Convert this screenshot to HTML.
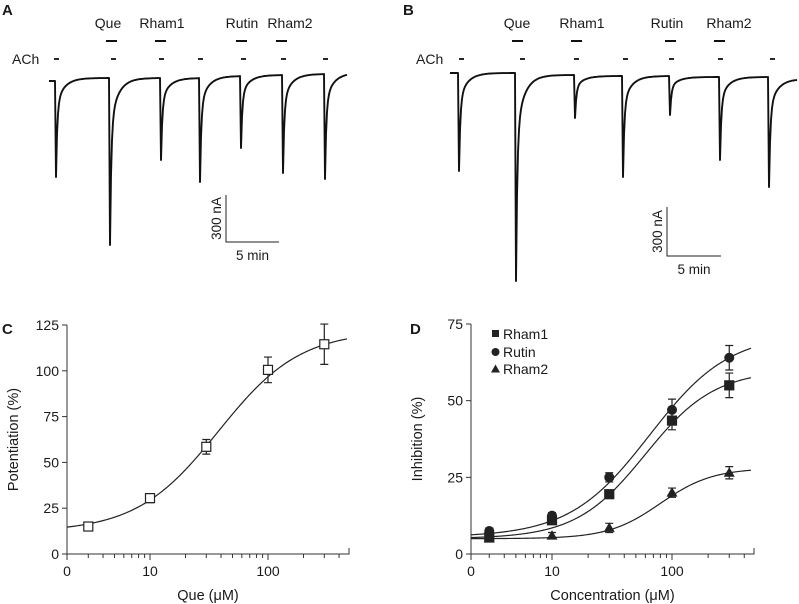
<!DOCTYPE html>
<html><head><meta charset="utf-8">
<style>
body{margin:0;background:#fff;}
svg{display:block;font-family:"Liberation Sans",Arial,sans-serif;}
text{fill:#1a1a1a;}
</style></head>
<body>
<svg id="fig" width="799" height="604" viewBox="0 0 799 604">
<g id="pa"></g>
<g id="pb"></g>
<g id="pc"></g>
<g id="pd"></g>
</svg>
<script>
// ---- Traces data ----
const drugNames = ["Que","Rham1","Rutin","Rham2"];
const aPeakX = [56,110,161,200,241,283,325];
const aPeakY = [177,245,160,182,148,173,179];
const aBase = [81,78,78,78,76,75,74,73];
const bPeakX = [459,516,575,623,670,720,769];
const bPeakY = [171,281,118,177,115,160,187];
const bBase = [73,73,75,76,76,77,77,79];
// ---- Panel C data ----
const concC = [3,10,30,100,300];
const valC = [15,30.5,58.5,100.5,114.5];
const errC = [1.5,2.5,4,7,11];
const fitC = [12,122,38,1.25];
// ---- Panel D data ----
const concD = [3,10,30,100,300];
const rham1 = [5.5,11,19.5,43.5,55];
const rham1Err = [1,1,1,3,4];
const rutin = [7.5,12.5,25,47,64];
const rutinErr = [1,1,1.5,3.5,4];
const rham2 = [5,6,8.5,20,26.5];
const rham2Err = [1,1,1.5,1.5,2];
const fitRham1 = [5,60,60,1.5];
const fitRutin = [5.5,72,65,1.3];
const fitRham2 = [5,28,80,2];
const yTicksC = [0,25,50,75,100,125];
const yTicksD = [0,25,50,75];
const xTickLabels = ["0","10","100"];

const NS="http://www.w3.org/2000/svg";
function mk(parent,tag,attrs,txt){const e=document.createElementNS(NS,tag);for(const k in attrs)e.setAttribute(k,attrs[k]);if(txt!==undefined)e.textContent=txt;parent.appendChild(e);return e;}

function trace(g,px,py,base,x0,x1,name){
  let d=`M${x0},${base[0]}`;
  for(let i=0;i<px.length;i++){
    const b0=base[i], b1=base[i+1];
    d+=` L${px[i]-1},${b0} L${px[i]},${py[i]}`;
    const end = i<px.length-1 ? px[i+1]-1 : x1;
    for(let x=px[i]+1;x<=end;x++){
      const t=x-px[i];
      const amp=py[i]-b0;
      const y=b1+amp*(0.72*Math.exp(-t/1.3)+0.28*Math.exp(-t/8));
      d+=` L${x},${y.toFixed(1)}`;
    }
  }
  const p=mk(g,'path',{d:d,fill:'none',stroke:'#111','stroke-width':1.9,'stroke-linejoin':'round'});
  
  
}
function topLabels(g,letter,lx,labX,barX,achX,achDash){
  const L=mk(g,'text',{x:lx,y:15,'font-size':15,'font-weight':'bold'},letter);
  
  drugNames.forEach((n,i)=>{
    const t=mk(g,'text',{x:labX[i],y:28,'font-size':14,'text-anchor':'middle'},n);
    
    const b=mk(g,'line',{x1:barX[i],x2:barX[i]+11,y1:41,y2:41,stroke:'#111','stroke-width':2});
    
  });
  const a=mk(g,'text',{x:achX,y:64,'font-size':14},'ACh');
  
  achDash.forEach(x=>{
    const l=mk(g,'line',{x1:x-2,x2:x+3,y1:59,y2:59,stroke:'#111','stroke-width':1.8});
    
  });
}
function scaleBar(g,x,y0,y1,x1,ty){
  const p=mk(g,'path',{d:`M${x},${y0} L${x},${y1} L${x1},${y1}`,fill:'none',stroke:'#222','stroke-width':1});
  
  const t=mk(g,'text',{x:0,y:0,'font-size':13.5,'text-anchor':'middle',transform:`translate(${x-5},${(y0+y1)/2}) rotate(-90)`},'300 nA');
  
  const t2=mk(g,'text',{x:(x+x1)/2,y:ty,'font-size':13.5,'text-anchor':'middle'},'5 min');
  
}
const pa=document.getElementById('pa'), pb=document.getElementById('pb');
topLabels(pa,'A',2,[108,162,242,290],[106,155,236,276],12,[56,113,161,200,243,283,325]);
trace(pa,aPeakX,aPeakY,aBase,49,347,'trace-a');
scaleBar(pa,226,195,242,279,260);
topLabels(pb,'B',403,[517,582,667,729],[512,571,665,714],416,[461,522,576,625,671,720,772]);
trace(pb,bPeakX,bPeakY,bBase,450,797,'trace-b');
scaleBar(pb,667,207,256,721,274);

function hill(p,c){return p[0]+(p[1]-p[0])/(1+Math.pow(p[2]/c,p[3]));}

function axes(g,ox,x10,dec,xEnd,yTop,yBot,ymax,yTicks,ylabel,xlabel){
  const sx=c=>x10+dec*Math.log10(c/10);
  const sy=v=>yBot-(yBot-yTop)*v/ymax;
  const ax=mk(g,'path',{d:`M${ox},${yTop} L${ox},${yBot} L${xEnd},${yBot} L${xEnd},${yBot-6}`,fill:'none',stroke:'#333','stroke-width':1});
  
  yTicks.forEach(v=>{
    const y=sy(v);
    const t=mk(g,'line',{x1:ox-5,x2:ox,y1:y,y2:y,stroke:'#333'});
    
    const l=mk(g,'text',{x:ox-8,y:y+5,'font-size':14,'text-anchor':'end'},String(v));
    
  });
  const tickC=[2,3,4,5,6,7,8,9,10,20,30,40,50,60,70,80,90,100,200,300,400];
  tickC.forEach(c=>{
    const x=sx(c); const major=(c===10||c===100);
    if(x<ox+2) return;
    const t=mk(g,'line',{x1:x,x2:x,y1:yBot,y2:yBot+(major?6:4),stroke:'#333'});
    
  });
  const t0=mk(g,'line',{x1:ox,x2:ox,y1:yBot,y2:yBot+6,stroke:'#333'});
  
  [ox,sx(10),sx(100)].forEach((x,i)=>{
    const l=mk(g,'text',{x:x,y:yBot+22,'font-size':14,'text-anchor':'middle'},xTickLabels[i]);
    
  });
  const yl=mk(g,'text',{x:0,y:0,'font-size':14.5,'text-anchor':'middle',transform:`translate(${ox-49},${(yTop+yBot)/2}) rotate(-90)`},ylabel);
  
  const xl=mk(g,'text',{x:(ox+xEnd)/2,y:yBot+46,'font-size':14.5,'text-anchor':'middle'},xlabel);
  
  return {sx,sy};
}
function curve(g,p,sx,sy,x0,x1,name){
  let d='';
  for(let x=x0;x<=x1;x+=1){
    const c=10*Math.pow(10,(x-sx(10))/(sx(100)-sx(10)));
    d+=(d?' L':'M')+x+','+sy(hill(p,c)).toFixed(2);
  }
  const e=mk(g,'path',{d:d,fill:'none',stroke:'#222','stroke-width':1.2});
  
}
function errbars(g,conc,vals,errs,sx,sy,name){
  conc.forEach((c,i)=>{
    const x=sx(c),y1=sy(vals[i]+errs[i]),y2=sy(vals[i]-errs[i]);
    const e=mk(g,'path',{d:`M${x},${y1} L${x},${y2} M${x-4},${y1} L${x+4},${y1} M${x-4},${y2} L${x+4},${y2}`,stroke:'#222','stroke-width':1.2,fill:'none'});
    
  });
}
function marker(g,shape,x,y,name,open){
  let e;
  if(shape==='sq') e=mk(g,'rect',{x:x-4.5,y:y-4.5,width:9,height:9,fill:open?'#fff':'#222',stroke:'#222','stroke-width':1.2});
  else if(shape==='ci') e=mk(g,'circle',{cx:x,cy:y,r:5,fill:'#222'});
  else e=mk(g,'path',{d:`M${x},${y-5.5} L${x+5.5},${y+4} L${x-5.5},${y+4} Z`,fill:'#222'});
  
}
// Panel C
const pc=document.getElementById('pc');
const lc=mk(pc,'text',{x:2,y:334,'font-size':15,'font-weight':'bold'},'C');

const C=axes(pc,67,150,118,349,325,554,125,yTicksC,'Potentiation (%)','Que (\u03BCM)');
curve(pc,fitC,C.sx,C.sy,67,347,'fit-curve-que');
errbars(pc,concC,valC,errC,C.sx,C.sy,'error-bar-que');
concC.forEach((c,i)=>marker(pc,'sq',C.sx(c),C.sy(valC[i]),'point-que',true));
// Panel D
const pd=document.getElementById('pd');
const ld=mk(pd,'text',{x:410,y:334,'font-size':15,'font-weight':'bold'},'D');

const D=axes(pd,471,552,120,754,324,554,75,yTicksD,'Inhibition (%)','Concentration (\u03BCM)');
curve(pd,fitRham1,D.sx,D.sy,471,751,'fit-curve-rham1');
curve(pd,fitRutin,D.sx,D.sy,471,751,'fit-curve-rutin');
curve(pd,fitRham2,D.sx,D.sy,471,751,'fit-curve-rham2');
errbars(pd,concD,rham1,rham1Err,D.sx,D.sy,'error-bar-rham1');
errbars(pd,concD,rutin,rutinErr,D.sx,D.sy,'error-bar-rutin');
errbars(pd,concD,rham2,rham2Err,D.sx,D.sy,'error-bar-rham2');
concD.forEach((c,i)=>marker(pd,'sq',D.sx(c),D.sy(rham1[i]),'point-rham1'));
concD.forEach((c,i)=>marker(pd,'ci',D.sx(c),D.sy(rutin[i]),'point-rutin'));
concD.forEach((c,i)=>marker(pd,'tr',D.sx(c),D.sy(rham2[i]),'point-rham2'));
// legend
[['sq','Rham1',334],['ci','Rutin',352],['tr','Rham2',369]].forEach(([s,n,y])=>{
  const lg=mk(pd,'g',{});
  
  if(s==='sq'){mk(lg,'rect',{x:492,y:y-4,width:7,height:7,fill:'#222'});}
  else if(s==='ci'){mk(lg,'circle',{cx:495.5,cy:y,r:4,fill:'#222'});}
  else {mk(lg,'path',{d:`M495.5,${y-4.5} L500,${y+3.5} L491,${y+3.5} Z`,fill:'#222'});}
  mk(lg,'text',{x:503,y:y+5,'font-size':14},n);
});
</script>
</body></html>
